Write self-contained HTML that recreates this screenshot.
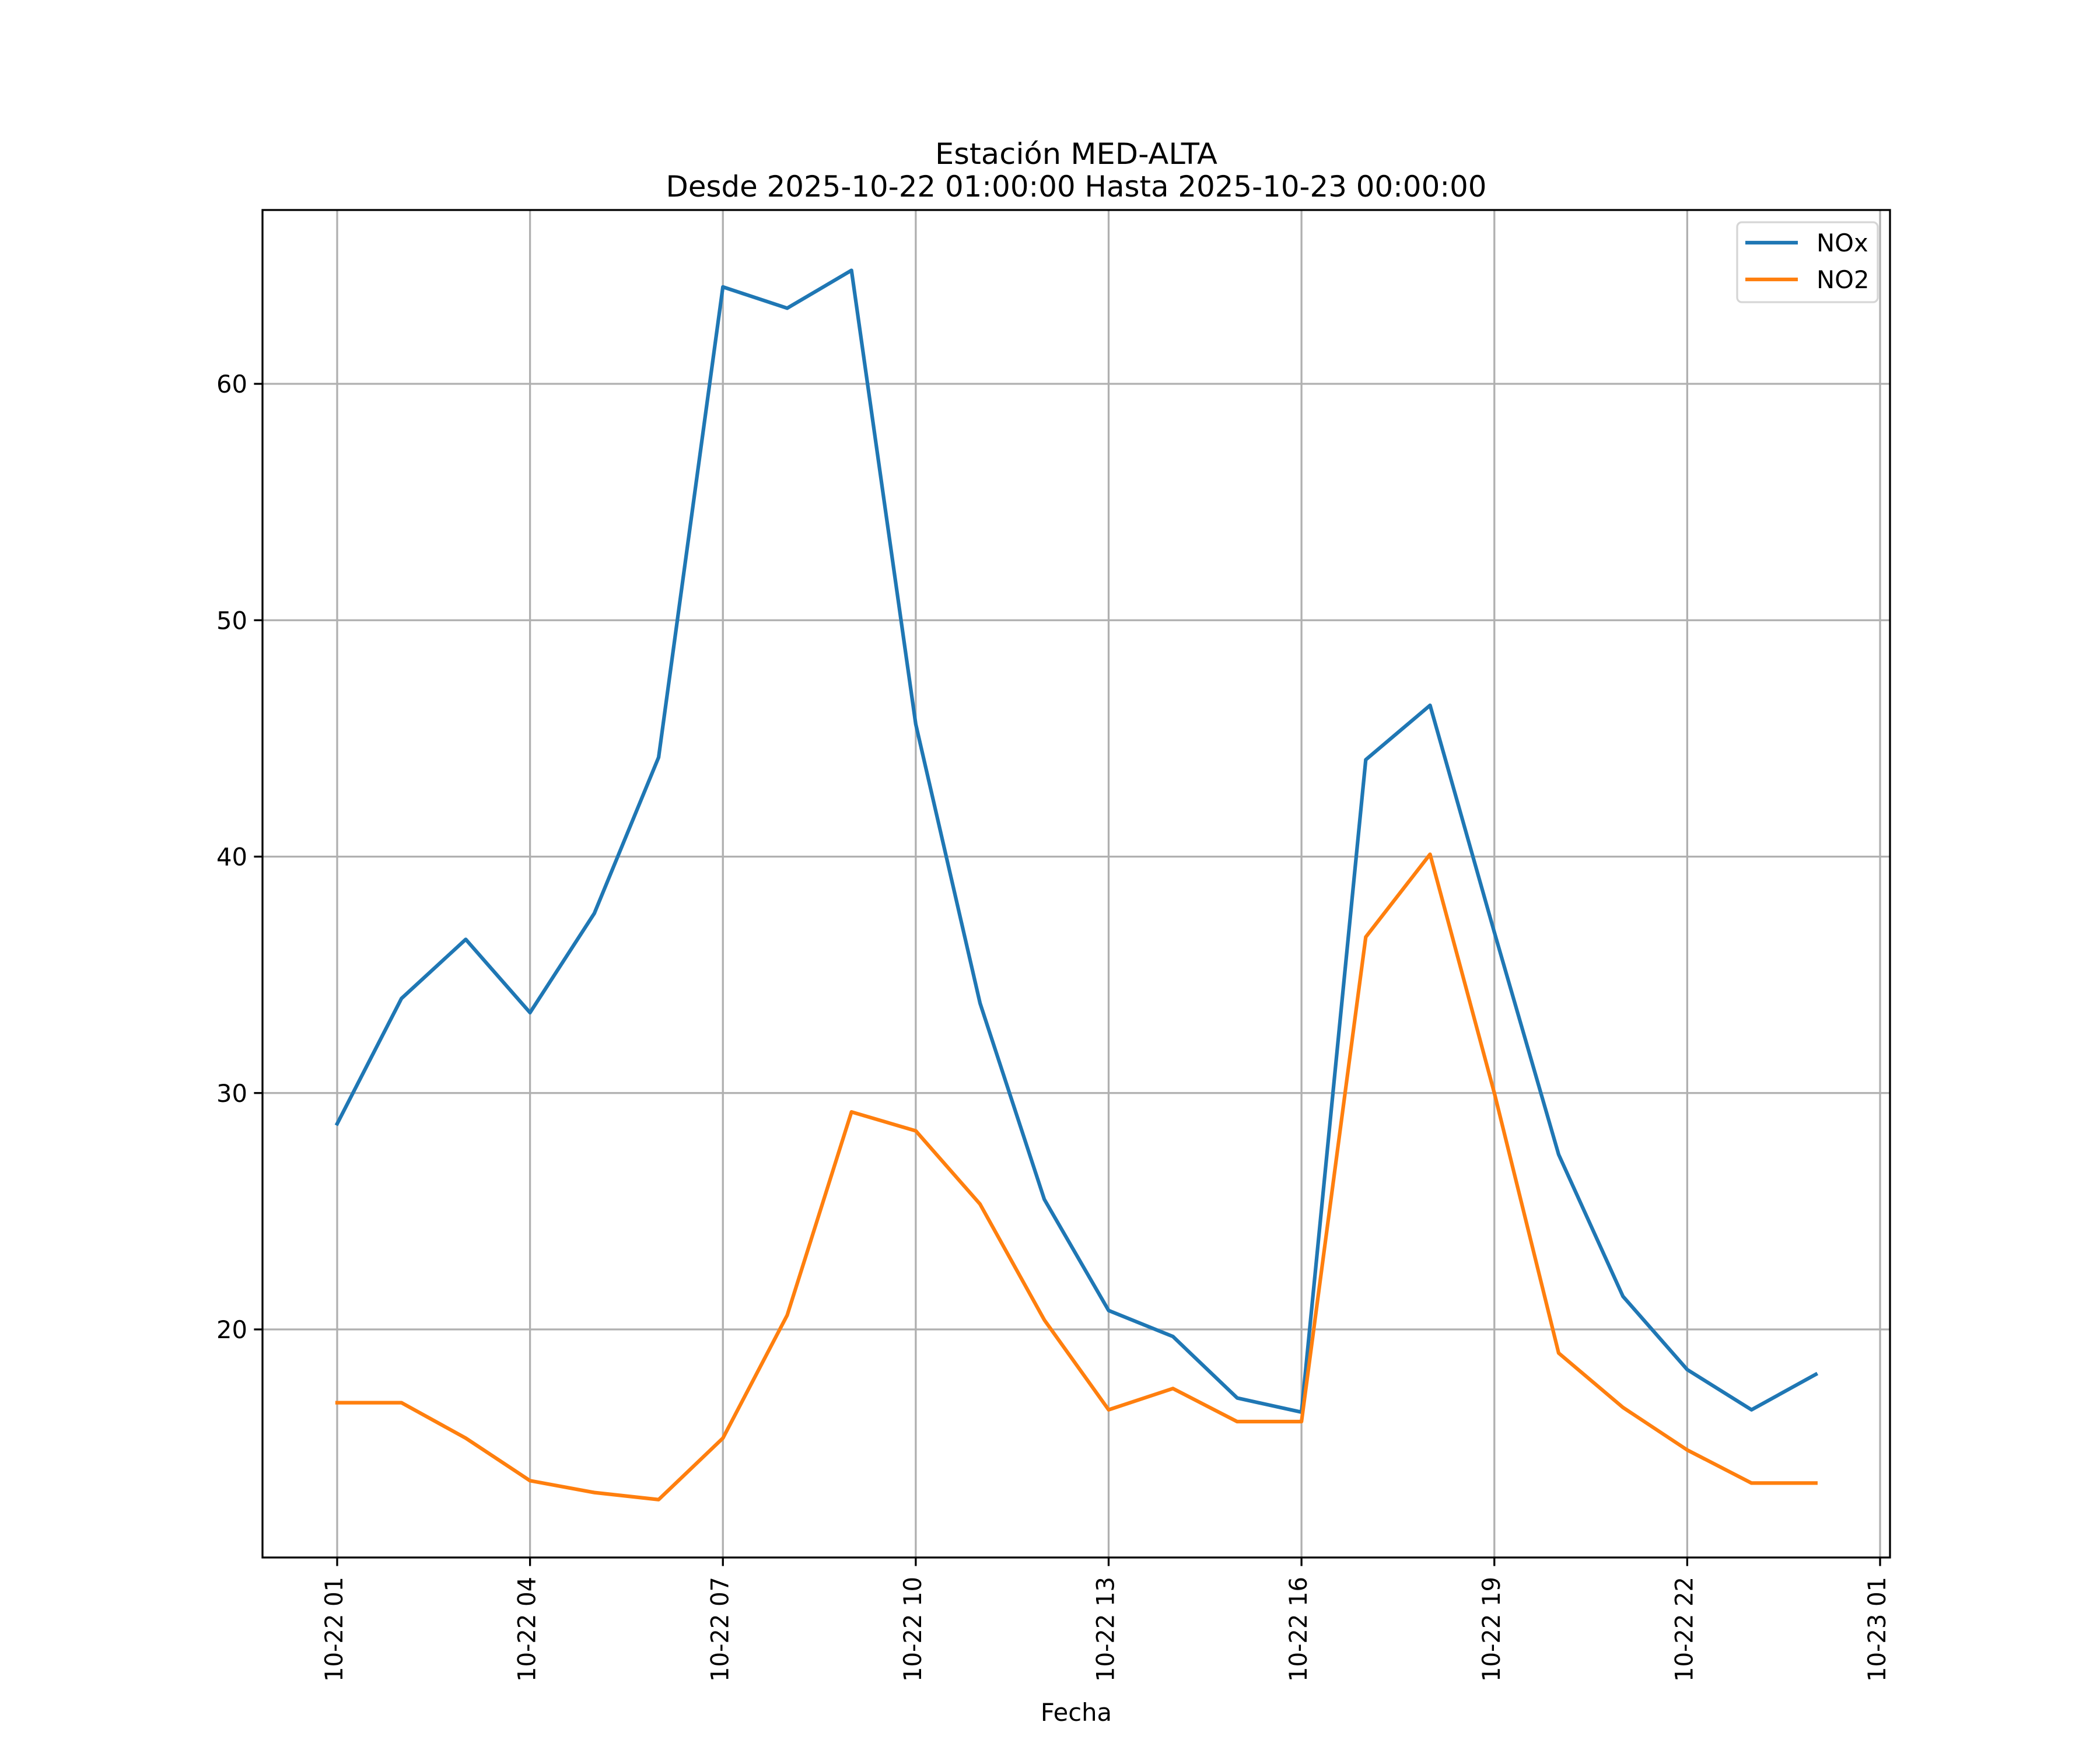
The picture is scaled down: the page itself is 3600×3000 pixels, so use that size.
<!DOCTYPE html>
<html><head><meta charset="utf-8"><style>html,body{margin:0;padding:0;background:#fff}svg{display:block}text{font-family:"DejaVu Sans","Liberation Sans",sans-serif;fill:#000}</style></head>
<body>
<svg id="chart" width="3600" height="3000" viewBox="0 0 3600 3000" xmlns="http://www.w3.org/2000/svg">
<rect width="3600" height="3000" fill="#fff"/>
<g id="grid"></g>
<g id="series"></g>
<rect x="450" y="360" width="2790" height="2310" fill="none" stroke="#000" stroke-width="3.3"/>
<g id="ticks"></g>
<text x="1845" y="281" font-size="50" text-anchor="middle" textLength="484" lengthAdjust="spacingAndGlyphs">Estación MED-ALTA</text>
<text x="1845" y="337" font-size="50" text-anchor="middle" textLength="1407" lengthAdjust="spacingAndGlyphs">Desde 2025-10-22 01:00:00 Hasta 2025-10-23 00:00:00</text>
<text x="1845" y="2950" font-size="41.7" text-anchor="middle">Fecha</text>
<g>
<rect x="2978" y="381" width="241" height="137" rx="8" fill="#fff" fill-opacity="0.8" stroke="#d6d6d6" stroke-width="3.3"/>
<line x1="2992" y1="416" x2="3082" y2="416" stroke="#1f77b4" stroke-width="6.25"/>
<text x="3114" y="431" font-size="41.7">NOx</text>
<line x1="2992" y1="479" x2="3082" y2="479" stroke="#ff7f0e" stroke-width="6.25"/>
<text x="3114" y="494" font-size="41.7">NO2</text>
</g>
</svg>
<script>
const hours = [1,2,3,4,5,6,7,8,9,10,11,12,13,14,15,16,17,18,19,20,21,22,23,24];
const noxValues = [28.7,34.0,36.5,33.4,37.6,44.2,64.1,63.2,64.8,45.6,33.8,25.5,20.8,19.7,17.1,16.5,44.1,46.4,36.8,27.4,21.4,18.3,16.6,18.1];
const no2Values = [16.9,16.9,15.4,13.6,13.1,12.8,15.4,20.6,29.2,28.4,25.3,20.4,16.6,17.5,16.1,16.1,36.6,40.1,30.0,19.0,16.7,14.9,13.5,13.5];
const xTickHours = [1,4,7,10,13,16,19,22,25];
const xTickLabels = ["10-22 01","10-22 04","10-22 07","10-22 10","10-22 13","10-22 16","10-22 19","10-22 22","10-23 01"];
const yTicks = [20,30,40,50,60];

const L=450,R=3240,T=360,B=2670;
const X1=578,X25=3223;
const Y60=658,Y20=2279;
const xs=h=>X1+(h-1)*(X25-X1)/24;
const ys=v=>Y20-(v-20)*(Y20-Y60)/40;
const NS="http://www.w3.org/2000/svg";
const grid=document.getElementById('grid'),ticks=document.getElementById('ticks'),series=document.getElementById('series');
function mk(tag,attrs,parent){const e=document.createElementNS(NS,tag);for(const k in attrs)e.setAttribute(k,attrs[k]);parent.appendChild(e);return e;}
xTickHours.forEach((h,i)=>{
  const x=xs(h);
  const g=mk('line',{x1:x,y1:T,x2:x,y2:B,stroke:'#b0b0b0','stroke-width':3.3},grid);
  
  
  const t=mk('line',{x1:x,y1:B,x2:x,y2:B+14.6,stroke:'#000','stroke-width':3.3},ticks);
  
  
  const tx=mk('text',{x:0,y:0,'font-size':41.7,'text-anchor':'end',textLength:180,lengthAdjust:'spacingAndGlyphs',transform:`translate(${x+9},${B+33}) rotate(-90)`},ticks);
  tx.textContent=xTickLabels[i];
  
  
});
yTicks.forEach(v=>{
  const y=ys(v);
  const g=mk('line',{x1:L,y1:y,x2:R,y2:y,stroke:'#b0b0b0','stroke-width':3.3},grid);
  
  
  const t=mk('line',{x1:L-14.6,y1:y,x2:L,y2:y,stroke:'#000','stroke-width':3.3},ticks);
  
  
  const tx=mk('text',{x:L-26,y:y+15,'font-size':41.7,'text-anchor':'end'},ticks);
  tx.textContent=v;
  
  
});
function line(vals,color,name){
  const p=mk('polyline',{points:vals.map((v,i)=>xs(hours[i])+','+ys(v)).join(' '),fill:'none',stroke:color,'stroke-width':6.25,'stroke-linejoin':'round','stroke-linecap':'square'},series);
  
  
}
line(noxValues,'#1f77b4','nox-line');
line(no2Values,'#ff7f0e','no2-line');
</script>
</body></html>
